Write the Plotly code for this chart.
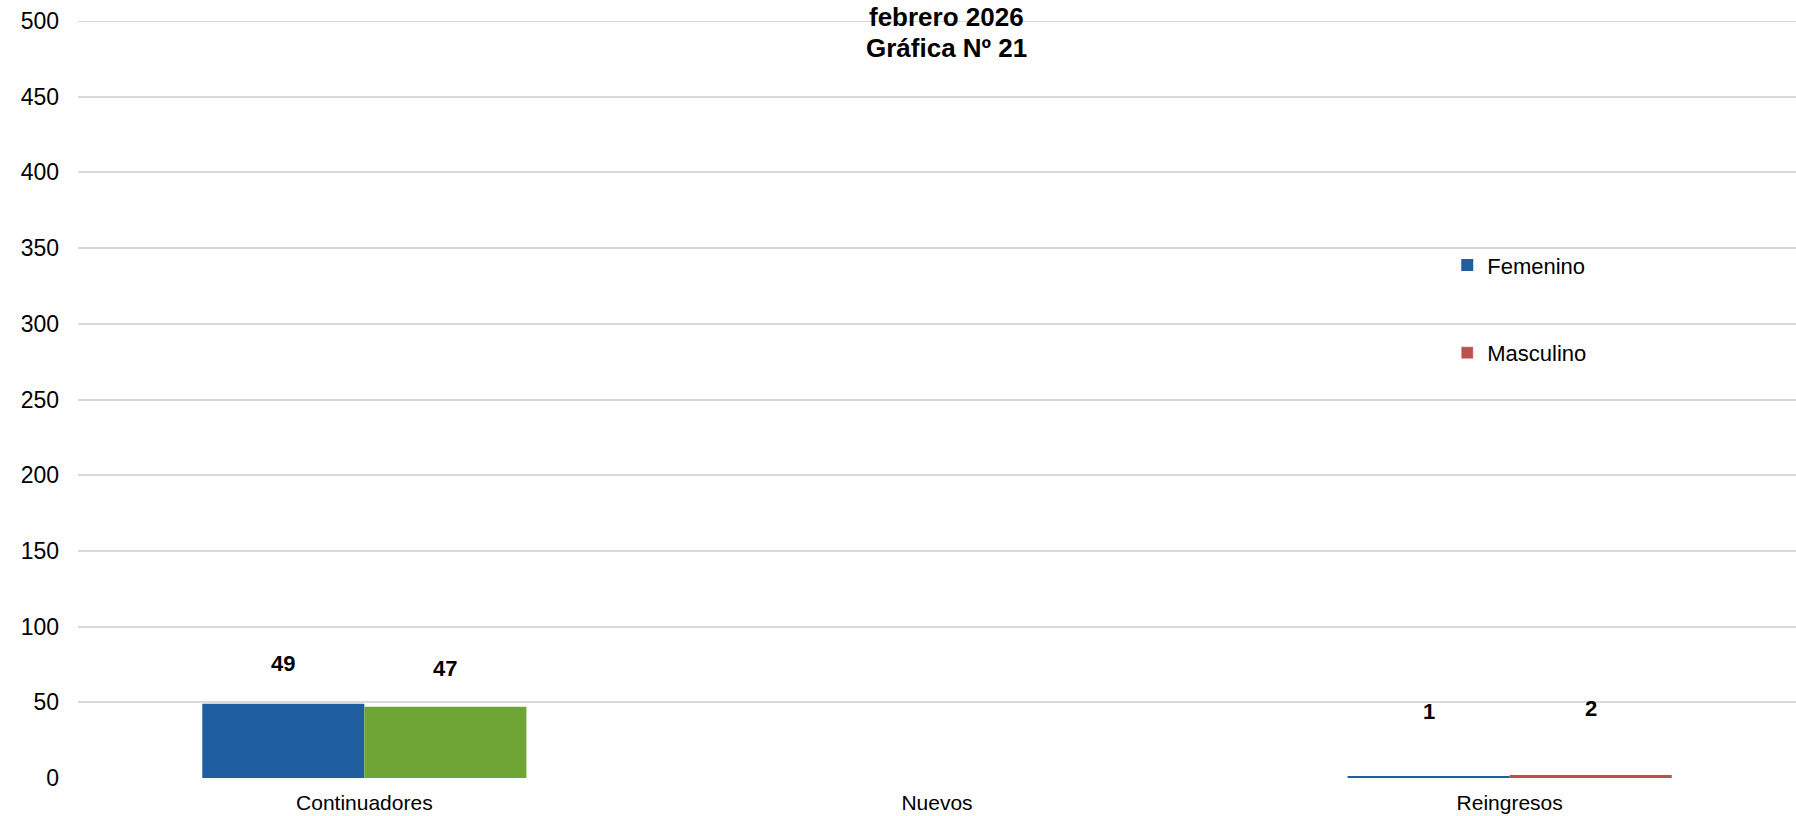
import plotly.graph_objects as go

categories = ["Continuadores", "Nuevos", "Reingresos"]
femenino = [49, 0, 1]
masculino = [47, 0, 2]
series_names = ["Femenino", "Masculino"]
y_ticks = [0, 50, 100, 150, 200, 250, 300, 350, 400, 450, 500]
title_lines = ["febrero 2026", "Gráfica Nº 21"]

# styles
FONT = "Liberation Sans, Arial, sans-serif"
GRID = "#d9d9d9"
fem_colors = ["#1f5e9f", "#1f5e9f", "#1f5e9f"]
mas_colors = ["#6ea535", "#6ea535", "#c0504d"]
legend_colors = ["#1f5e9f", "#c0504d"]
label_shift = [[26, None, 50], [24, None, 52]]  # pixels above bar top (label bottom)
title_line_shift = [4, -27]  # pixels relative to plot top (line centres)

fig = go.Figure()
fig.add_trace(go.Bar(
    x=categories, y=femenino, name=series_names[0],
    marker=dict(color=fem_colors, line=dict(width=0)),
    legendgroup="f", showlegend=True,
))
fig.add_trace(go.Bar(
    x=categories, y=masculino, name=series_names[1],
    marker=dict(color=mas_colors, line=dict(width=0)),
    legendgroup="m", showlegend=False,
))
# legend entry for Masculino in its legend colour (on a hidden overlay axis so it takes no bar slot)
fig.add_trace(go.Bar(x=[categories[0]], y=[None], name=series_names[1],
                     marker=dict(color=legend_colors[1]), legendgroup="m",
                     showlegend=True, xaxis="x2", hoverinfo="skip"))

bargap = 0.434
bar_w = (1 - bargap) / 2
annotations = []
for si, vals in enumerate([femenino, masculino]):
    off = -bar_w / 2 if si == 0 else bar_w / 2
    for ci, v in enumerate(vals):
        if v == 0:
            continue
        annotations.append(dict(
            x=ci + off, y=v, xref="x", yref="y", text=f"<b>{v}</b>",
            showarrow=False, yanchor="bottom", yshift=label_shift[si][ci],
            font=dict(family=FONT, size=22, color="#000000"),
        ))

for line, shift in zip(title_lines, title_line_shift):
    annotations.append(dict(
        text=f"<b>{line}</b>",
        xref="paper", yref="paper", x=(946 - 78) / 1718, y=1,
        xanchor="center", yanchor="middle", yshift=shift, showarrow=False,
        font=dict(family=FONT, size=26, color="#000000"),
    ))

fig.update_layout(
    width=1796, height=816,
    margin=dict(l=78, r=0, t=21, b=38),
    paper_bgcolor="white", plot_bgcolor="white",
    barmode="group", bargap=bargap, bargroupgap=0,
    font=dict(family=FONT, size=21, color="#000000"),
    legend=dict(x=0.797, xanchor="left", y=0.705, yanchor="top",
                bgcolor="rgba(0,0,0,0)", font=dict(family=FONT, size=22),
                tracegroupgap=56, traceorder="grouped",
                itemwidth=30),
    showlegend=True,
    annotations=annotations,
    xaxis2=dict(overlaying="x", visible=False, type="category"),
)
# top gridline (at the range edge) drawn explicitly
fig.add_shape(type="line", xref="paper", yref="y", x0=0, x1=1,
              y0=y_ticks[-1], y1=y_ticks[-1], layer="below",
              line=dict(color=GRID, width=2))
fig.update_yaxes(range=[0, 500], tickvals=y_ticks, showgrid=True,
                 gridcolor=GRID, gridwidth=2, zeroline=False,
                 showline=False, ticks="", ticklabelstandoff=18,
                 tickfont=dict(family=FONT, size=23, color="#000000"))
fig.layout.xaxis.update(showgrid=False, showline=False, ticks="", ticklabelstandoff=10,
                        tickfont=dict(family=FONT, size=21, color="#000000"))

fig.write_html("out.html", post_script="document.body.style.margin='0';",
               config={"displayModeBar": False})
